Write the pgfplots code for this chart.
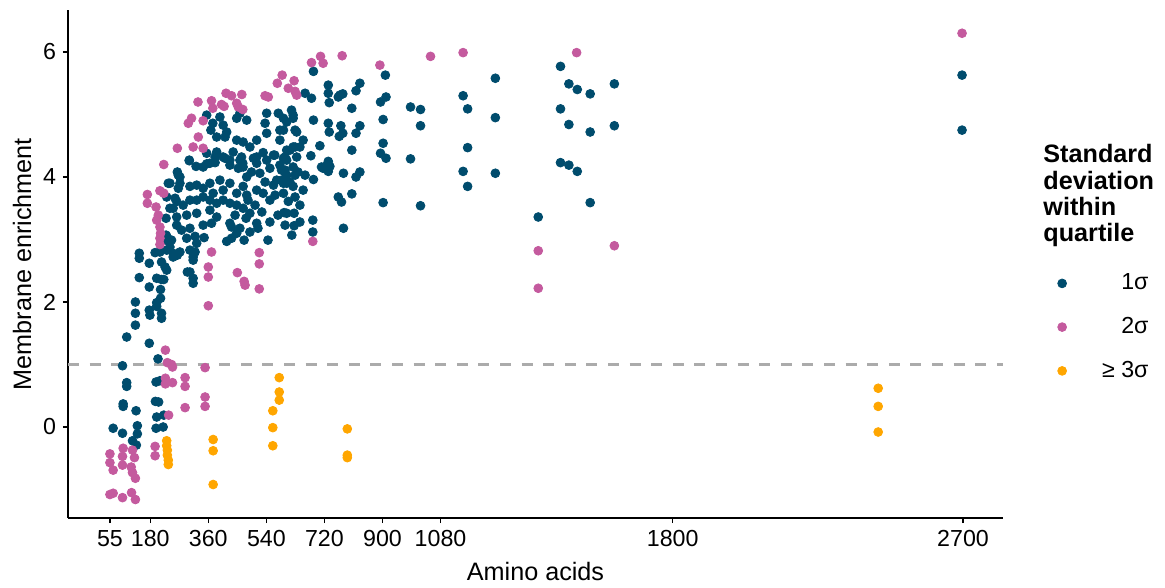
\documentclass[border=0pt]{standalone}
\usepackage{pgfplots}
\pgfplotsset{compat=1.18}
\usepackage{fontspec}
\setmainfont{Liberation Sans}
\definecolor{cA}{HTML}{004C6D}
\definecolor{cB}{HTML}{C45A9E}
\definecolor{cC}{HTML}{FFA600}
\definecolor{dashgray}{HTML}{ABABAB}
\begin{document}
\begin{tikzpicture}
\path (0,0) rectangle (582.5pt,293pt);
\begin{axis}[
  at={(34pt,34pt)}, anchor=south west,
  width=467.5pt, height=254pt, scale only axis,
  xmin=-75, xmax=2824, ymin=-1.456, ymax=6.672,
  axis x line*=bottom, axis y line*=left,
  axis line style={line width=0.8pt, -},
  xtick={55,180,360,540,720,900,1080,1800,2700},
  xticklabels={55,180,360,540,720,900,1080,1800,2700},
  ytick={0,2,4,6}, yticklabels={0,2,4,6},
  tick align=outside, major tick length=2.5pt,
  tick style={line width=0.6pt, black},
  ticklabel style={font=\fontsize{11.6}{13}\selectfont},
  xlabel={Amino acids}, ylabel={Membrane enrichment},
  label style={font=\fontsize{12.6}{14}\selectfont},
  xlabel style={at={(axis description cs:0.5,-0.106)}, anchor=center},
  ylabel style={at={(axis description cs:-0.049,0.5)}, anchor=center},
  clip=false,
  legend style={at={(axis description cs:1.035,0.497)}, anchor=north west, draw=none, fill=none,
     font=\fontsize{11.6}{13}\selectfont, row sep=8.3pt,
     /tikz/every odd column/.append style={column sep=8pt}},
  legend cell align=right,
  legend image code/.code={\path[draw=none,fill=none] (0pt,-3pt) rectangle (20pt,3pt); \draw[#1, mark repeat=2, mark phase=2] plot coordinates {(0pt,0pt) (10pt,0pt) (20pt,0pt)};},
]
\addplot[dashgray, line width=1.2pt, dash pattern=on 5.5pt off 5.3pt, forget plot] coordinates {(-75,1) (2824,1)};
% 1 sigma
\addplot[only marks, mark=*, mark size=2.2pt, color=cA] coordinates {
(107,1.44)(177,1.34)(204,1.09)(94,0.98)(107,0.71)(107,0.65)(198,0.72)(210,0.74)(96,0.37)(96,0.33)
(136,0.26)(196,0.41)(206,0.40)(200,0.16)(222,0.19)(65,-0.02)(94,-0.10)(140,0.02)(140,-0.11)(125,-0.22)
(137,-0.29)(198,-0.02)(220,0.0)
(134,2.0)(134,1.82)(134,1.63)(146,2.39)(146,2.78)(146,2.70)(177,2.62)(177,2.24)(177,1.87)(179,1.79)
(200,2.38)(215,2.36)(222,2.36)(212,2.2)(212,2.06)(200,1.99)(200,1.93)(215,1.82)(215,1.74)(210,2.80)
(215,2.64)(226,2.56)(231,2.51)(195,2.79)(229,3.07)(229,2.99)(251,2.72)(264,2.75)(272,2.80)(319,2.80)
(313,2.67)(303,2.48)(313,2.38)(313,2.30)(295,2.48)(229,3.34)(241,3.50)(257,3.66)(267,3.82)(370,3.26)
(347,3.03)(417,2.97)(432,3.02)(448,3.10)(432,3.2)(471,2.99)(489,3.12)(510,3.26)
(236,3.9)(272,4.0)(264,4.08)(301,4.26)(322,4.17)(355,4.21)(381,4.32)(381,4.23)(412,4.30)(437,4.40)
(463,4.32)(467,4.22)(427,4.19)(453,4.14)(500,4.30)(510,4.22)(530,4.39)(566,4.35)(593,4.30)(587,4.11)
(603,4.03)(551,4.14)(520,4.06)(494,4.08)(479,4.0)(267,4.03)(272,3.90)(241,3.90)(303,3.85)(324,3.87)
(344,3.82)(365,3.90)(375,3.74)(396,3.95)(406,3.79)(427,3.90)(448,3.74)(468,3.85)(479,3.71)(510,3.79)
(530,3.74)(562,3.87)(551,3.63)(593,3.74)(603,3.42)(231,3.68)(262,3.61)(251,3.50)(282,3.55)(303,3.63)
(324,3.63)(344,3.68)(365,3.63)(386,3.58)(406,3.63)(427,3.58)(448,3.55)(468,3.50)(489,3.42)(262,3.36)
(293,3.39)(324,3.42)(262,3.23)(277,3.15)(303,3.18)(293,3.02)(319,3.05)(344,3.23)(324,2.94)(365,3.47)
(386,3.36)(427,3.26)(231,3.05)(241,2.88)(246,2.99)(231,2.83)(251,2.78)(303,2.83)(313,2.72)(572,3.95)
(593,3.90)
(483,3.63)(505,3.55)(526,3.44)(551,3.28)(576,3.39)(598,3.23)(619,3.07)(644,3.28)(514,3.18)(477,3.34)
(536,3.92)(567,3.71)(613,3.92)(638,4.08)(644,3.55)(660,4.03)(545,2.99)(458,3.18)(443,3.39)(582,4.19)
(355,4.99)(374,4.86)(368,4.75)(396,4.96)(406,4.83)(417,4.72)(448,4.94)(458,5.02)(479,4.91)(386,4.64)
(412,4.64)(448,4.59)(468,4.56)(489,4.48)(510,4.59)(541,5.02)(536,4.86)(541,4.70)(577,5.02)(593,4.94)
(618,5.07)(623,4.94)(634,4.72)(582,4.75)(582,4.59)(623,4.48)(603,4.43)(634,4.32)(386,4.40)(355,4.38)
(406,4.32)(427,4.27)(458,4.27)(468,4.16)(510,4.32)(541,4.27)(562,4.35)(603,4.27)(301,4.27)(344,4.16)
(365,4.22)
(686,5.69)(909,5.63)(732,5.47)(830,5.50)(818,5.38)(732,5.34)(735,5.19)(768,5.31)(777,5.33)(763,5.28)
(660,5.34)(680,5.26)(805,5.10)(894,5.20)(911,5.28)(987,5.12)(1018,5.08)(902,4.92)(1018,4.82)(686,4.91)
(732,4.86)(735,4.72)(771,4.82)(766,4.65)(777,4.70)(830,4.82)(818,4.70)(623,4.99)(603,4.88)(629,4.75)
(593,4.75)(654,4.59)(644,4.48)(613,4.43)(598,4.32)(629,4.48)(706,4.50)(678,4.34)(805,4.43)(902,4.54)
(894,4.38)(911,4.30)(987,4.29)(716,4.14)(732,4.25)(732,4.09)(727,4.18)(711,4.16)(737,4.17)(779,4.06)
(818,4.0)(830,4.08)(686,3.96)(623,4.16)(629,4.03)(598,4.11)(587,3.95)(603,3.90)(623,3.85)(654,3.79)
(629,3.68)(608,3.61)(763,3.68)(773,3.60)(805,3.73)(902,3.59)(1018,3.54)(595,3.43)(626,3.42)(626,3.22)
(684,3.31)(684,3.12)(779,3.18)
(1250,5.58)(1150,5.30)(1164,5.09)(1250,4.95)(1164,4.47)(1150,4.09)(1250,4.06)(1164,3.85)(1383,3.36)
(1452,5.77)(1478,5.49)(1504,5.40)(1544,5.33)(1619,5.49)(1452,5.09)(1478,4.84)(1544,4.72)(1619,4.82)
(1452,4.23)(1478,4.19)(1504,4.09)(1544,3.59)(2697,5.63)(2697,4.75)
};
\addlegendentry{1σ}
% 2 sigma
\addplot[only marks, mark=*, mark size=2.2pt, color=cB] coordinates {
(227,1.23)(233,1.03)(246,1.0)(249,0.96)(350,0.95)(288,0.79)(288,0.65)(227,0.78)(227,0.69)(249,0.71)
(350,0.48)(350,0.33)(288,0.31)(237,0.19)(195,-0.31)(195,-0.46)(96,-0.34)(94,-0.47)(94,-0.61)(55,-0.43)
(55,-0.57)(65,-0.69)(125,-0.37)(131,-0.49)(121,-0.64)(125,-0.73)(134,-0.82)(55,-1.08)(65,-1.06)(94,-1.13)
(122,-1.05)(134,-1.16)
(222,4.2)(171,3.72)(171,3.58)(210,3.78)(222,3.74)(198,3.52)(205,3.39)(200,3.31)(210,3.2)(212,3.1)
(210,3.02)(210,2.92)(370,2.80)(360,2.56)(360,2.40)(360,1.94)(450,2.47)(471,2.33)(474,2.27)(518,2.79)
(518,2.61)(518,2.21)
(589,5.63)(574,5.50)(626,5.54)(608,5.42)(629,5.37)(634,5.31)(415,5.34)(432,5.30)(464,5.32)(536,5.30)
(546,5.28)(328,5.2)(370,5.22)(374,5.10)(401,5.16)(409,5.13)(448,5.18)(453,5.12)(467,5.08)(308,4.94)
(298,4.86)(344,4.90)(329,4.64)(313,4.48)(264,4.46)(344,4.46)
(680,5.83)(708,5.93)(716,5.82)(775,5.94)(892,5.79)(1049,5.93)(684,2.97)
(1150,5.99)(1502,5.99)(1383,2.82)(1383,2.22)(1619,2.90)(2697,6.30)
};
\addlegendentry{2σ}
% >= 3 sigma
\addplot[only marks, mark=*, mark size=2.2pt, color=cC] coordinates {
(231,-0.22)(231,-0.30)(233,-0.37)(233,-0.45)(236,-0.53)(236,-0.60)(375,-0.20)(375,-0.38)(375,-0.92)
(580,0.79)(580,0.56)(580,0.43)(560,0.26)(560,-0.01)(560,-0.30)(791,-0.03)(791,-0.45)(791,-0.49)
(2437,0.62)(2437,0.33)(2437,-0.08)
};
\addlegendentry{≥ 3σ}
\end{axis}
\node[anchor=north west, align=left, inner sep=0pt, font=\bfseries\fontsize{12.6}{13.2}\selectfont] at (521.5pt,221pt) {Standard\\deviation\\within\\quartile};
\end{tikzpicture}
\end{document}
